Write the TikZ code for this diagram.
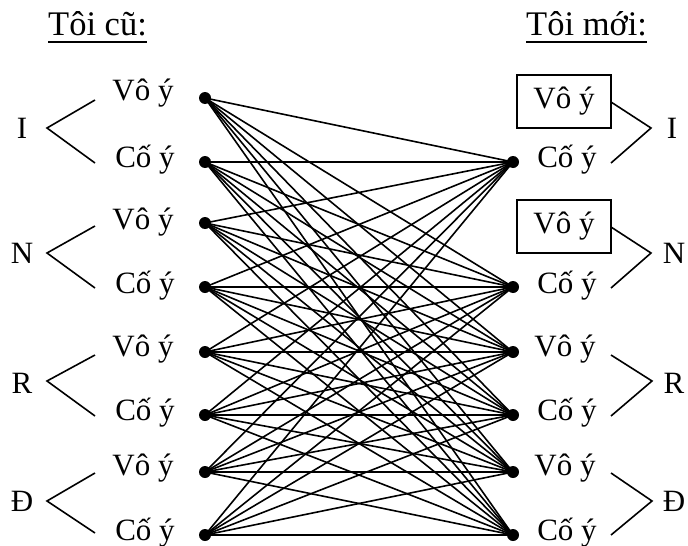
\documentclass[tikz,border=0pt]{standalone}
\usepackage{fontspec}
\setmainfont{Liberation Serif}
\begin{document}
\begin{tikzpicture}[x=1pt,y=-1pt,
  lbl/.style={inner sep=0pt,anchor=base,font=\fontsize{31}{36}\selectfont},
  ttl/.style={inner sep=0pt,anchor=base west,font=\fontsize{34.5}{40}\selectfont},
  dot/.style={circle,fill=black,inner sep=0pt,minimum size=12pt},
  boxed/.style={draw,line width=1.4pt,minimum width=94pt,minimum height=53pt,inner sep=0pt,font=\fontsize{31}{36}\selectfont},
  edge/.style={line width=1.6pt},
  brk/.style={line width=1.6pt}]
\useasboundingbox (0,0) rectangle (688,546);
% titles
\node[ttl] (t1) at (48,35) {Tôi cũ:};
\node[ttl] (t2) at (526,35) {Tôi mới:};
\draw[line width=1.6pt] ([yshift=-7pt]t1.base west) -- ([yshift=-7pt]t1.base east);
\draw[line width=1.6pt] ([yshift=-7pt]t2.base west) -- ([yshift=-7pt]t2.base east);
% left labels
\node[lbl] (lv1) at (143,100) {Vô ý};
\node[lbl] (lc1) at (145,167) {Cố ý};
\node[lbl] (lv2) at (143,229) {Vô ý};
\node[lbl] (lc2) at (145,293) {Cố ý};
\node[lbl] (lv3) at (143,356) {Vô ý};
\node[lbl] (lc3) at (145,420) {Cố ý};
\node[lbl] (lv4) at (143,475) {Vô ý};
\node[lbl] (lc4) at (145,540) {Cố ý};
% left letters
\node[lbl] (LI) at (22,138) {I};
\node[lbl] (LN) at (22,263) {N};
\node[lbl] (LR) at (22,393) {R};
\node[lbl] (LD) at (22,511) {Đ};
% left brackets
\coordinate (lt1) at (47,128); \coordinate (la1) at (95,100); \coordinate (lb1) at (95,163);
\coordinate (lt2) at (47,253); \coordinate (la2) at (95,226); \coordinate (lb2) at (95,288);
\coordinate (lt3) at (47,381); \coordinate (la3) at (95,355); \coordinate (lb3) at (95,416);
\coordinate (lt4) at (47,501); \coordinate (la4) at (95,473); \coordinate (lb4) at (95,533);
\foreach \i in {1,2,3,4} \draw[brk] (la\i) -- (lt\i) -- (lb\i);
% right labels
\node[boxed] (rv1) at (564,101.5) {Vô ý};
\node[lbl] (rc1) at (567,167) {Cố ý};
\node[boxed] (rv2) at (564,226.5) {Vô ý};
\node[lbl] (rc2) at (567,293) {Cố ý};
\node[lbl] (rv3) at (565,356) {Vô ý};
\node[lbl] (rc3) at (567,420) {Cố ý};
\node[lbl] (rv4) at (565,475) {Vô ý};
\node[lbl] (rc4) at (567,540) {Cố ý};
% right letters
\node[lbl] (RI) at (672,138) {I};
\node[lbl] (RN) at (674,263) {N};
\node[lbl] (RR) at (674,393) {R};
\node[lbl] (RD) at (674,511) {Đ};
% right brackets
\coordinate (rt1) at (651,128); \coordinate (ra1) at (611,102); \coordinate (rb1) at (611,163);
\coordinate (rt2) at (651,253); \coordinate (ra2) at (611,227); \coordinate (rb2) at (611,288);
\coordinate (rt3) at (652,381); \coordinate (ra3) at (611,355); \coordinate (rb3) at (611,416);
\coordinate (rt4) at (652,501); \coordinate (ra4) at (611,473); \coordinate (rb4) at (611,535);
\foreach \i in {1,2,3,4} \draw[brk] (ra\i) -- (rt\i) -- (rb\i);
% dots
\node[dot] (L1) at (205,98) {};
\node[dot] (L2) at (205,162) {};
\node[dot] (L3) at (205,223) {};
\node[dot] (L4) at (205,287) {};
\node[dot] (L5) at (205,352) {};
\node[dot] (L6) at (205,415) {};
\node[dot] (L7) at (205,472) {};
\node[dot] (L8) at (205,535) {};
\node[dot] (R1) at (513,162) {};
\node[dot] (R2) at (513,287) {};
\node[dot] (R3) at (513,352) {};
\node[dot] (R4) at (513,415) {};
\node[dot] (R5) at (513,472) {};
\node[dot] (R6) at (513,535) {};
\foreach \a in {1,...,8}
  \foreach \b in {1,...,6}
    \draw[edge] (L\a.center) -- (R\b.center);
\end{tikzpicture}
\end{document}
